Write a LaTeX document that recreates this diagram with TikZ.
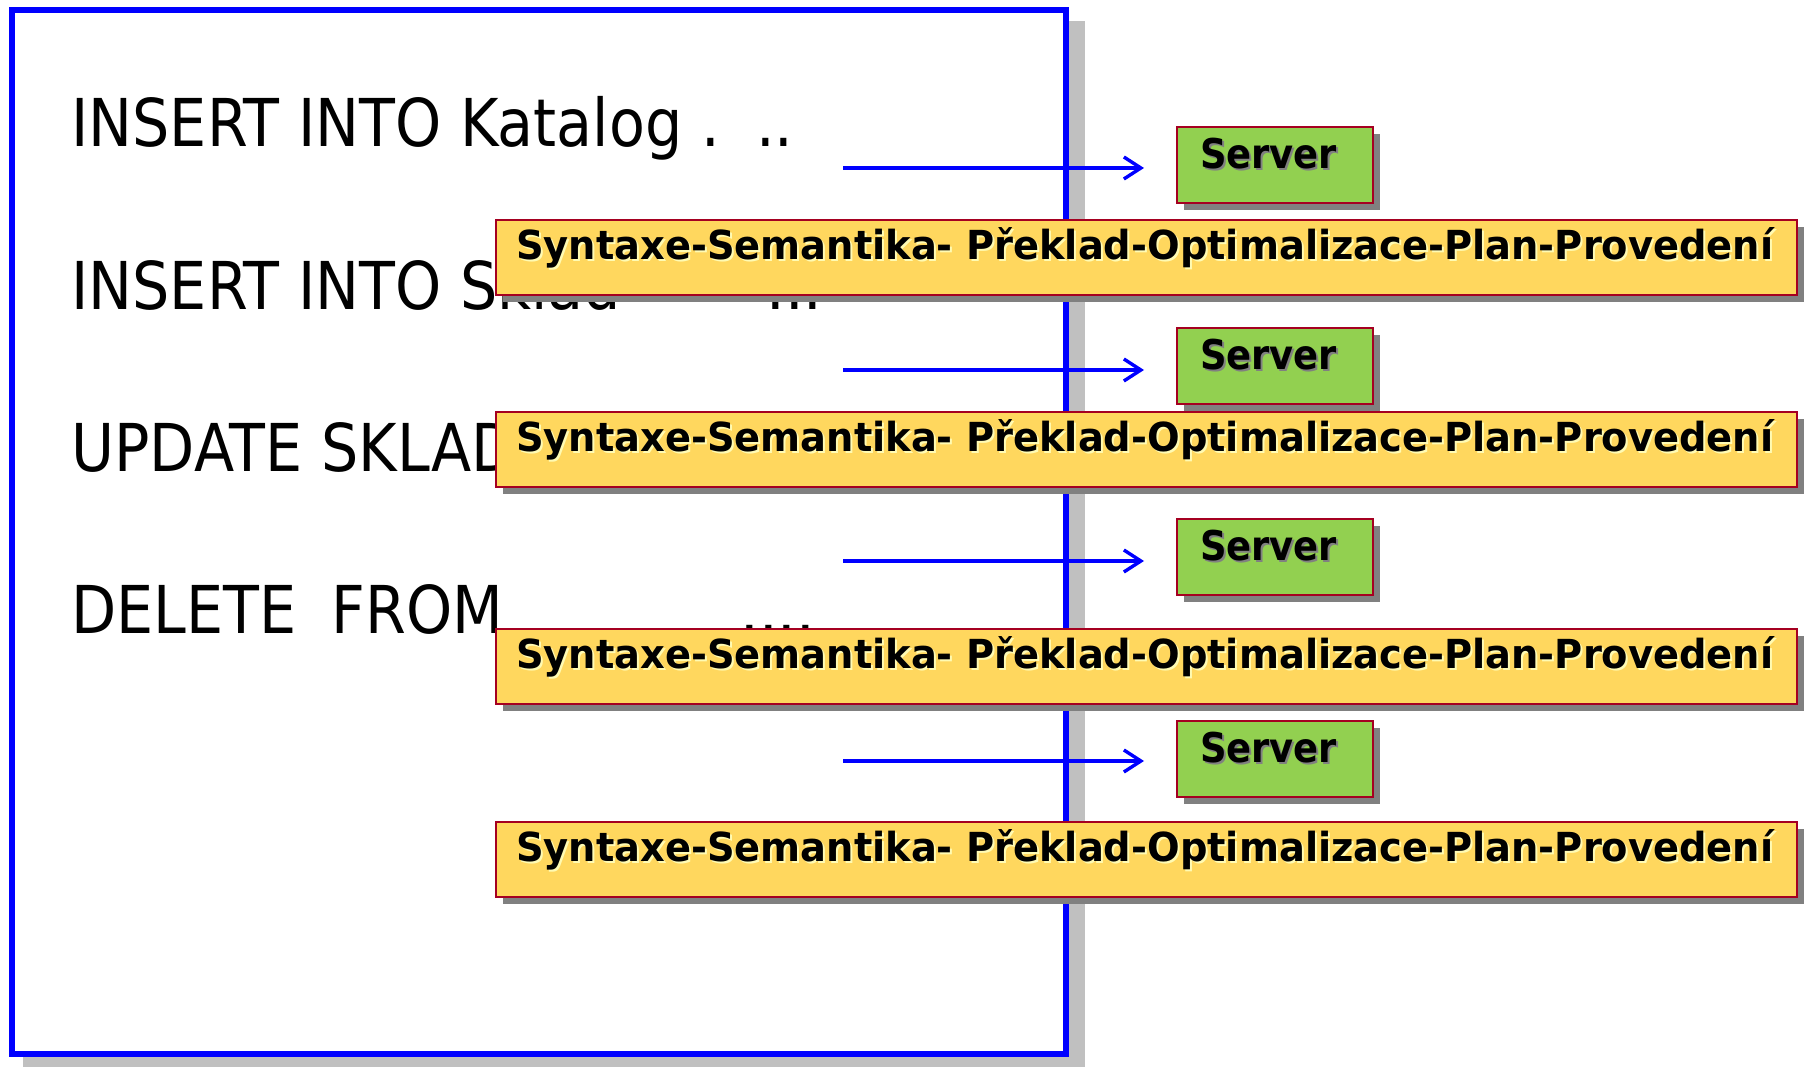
\documentclass[tikz,border=0pt]{standalone}
\usepackage{fontspec}
\setmainfont{DejaVu Sans}
\newfontfamily\sqlfont[FakeStretch=0.89]{DejaVu Sans}
\newfontfamily\srvfont[FakeStretch=0.9]{DejaVu Sans}
\newfontfamily\barfont[FakeStretch=0.96]{DejaVu Sans}
\usetikzlibrary{arrows.meta,shadows,positioning}

\definecolor{srvgreen}{HTML}{92D050}
\definecolor{stepyellow}{HTML}{FFD75E}
\definecolor{boxred}{HTML}{A50021}
\definecolor{lightshade}{HTML}{C0C0C0}
\definecolor{darkshade}{HTML}{808080}

% text with a small offset copy behind it
\newcommand\shadetext[2]{\makebox[0pt][l]{\hspace{1pt}\raisebox{-1pt}{\textcolor{#1}{#2}}}#2}

\tikzset{
  sqlline/.style={anchor=base west, inner sep=0pt,
    font=\sqlfont\fontsize{33}{40}\selectfont},
  srvbox/.style={anchor=north west, draw=boxred, line width=1pt, fill=srvgreen,
    font=\srvfont\bfseries\fontsize{20.5}{24}\selectfont,
    text width=75pt, align=left, inner xsep=11.5pt, inner ysep=6pt,
    text height=15pt, text depth=11pt,
    drop shadow={shadow xshift=3.5pt, shadow yshift=-3.5pt, opacity=1, fill=darkshade}},
  stepbar/.style={anchor=north west, draw=boxred, line width=1pt, fill=stepyellow,
    font=\barfont\bfseries\fontsize{20}{24}\selectfont,
    text width=630.5pt, align=left, inner xsep=10pt, inner ysep=5.5pt,
    text height=14.5pt, text depth=12pt,
    drop shadow={shadow xshift=3.5pt, shadow yshift=-3.5pt, opacity=1, fill=darkshade}},
  sendarrow/.style={-{Straight Barb[length=8.5pt,width=11pt]}, blue, line width=1.7pt,
    shorten >=16pt}
}

\begin{document}
\begin{tikzpicture}[x=0.5pt,y=-0.5pt]
    \useasboundingbox (0,0) rectangle (1806,1068);

    % client panel with its shadow
    \fill[lightshade] (23,21) rectangle (1085,1067);
    \draw[blue, line width=3pt, fill=white] (12,10) rectangle (1066,1054);

    % statements sent one by one
    \node[sqlline] (q1) at (71,147) {INSERT INTO Katalog .\hspace{0.55em}..};
    \node[sqlline] (q2) at (71,310) {INSERT INTO Sklad};
    \node[sqlline] (q2tail) at (766,310) {...};
    \node[sqlline] (q3) at (71,472) {UPDATE SKLAD};
    \node[sqlline] (q4) at (71,634) {DELETE\hspace{0.25em} FROM};
    \node[sqlline] (q4tail) at (740,634) {....};

    % first round trip
    \node[srvbox] (s1) at (1176,126) {\shadetext{darkshade}{Server}};
    \coordinate (a1) at (843,168);
    \draw[sendarrow] (a1) -- (a1 -| s1.west);
    \node[stepbar] (p1) at (495,219) {\shadetext{yellow!30}{Syntaxe-Semantika- Překlad-Optimalizace-Plan-Provedení}};

    % second round trip
    \node[srvbox] (s2) at (1176,327) {\shadetext{darkshade}{Server}};
    \coordinate (a2) at (843,370);
    \draw[sendarrow] (a2) -- (a2 -| s2.west);
    \node[stepbar] (p2) at (495,411) {\shadetext{yellow!30}{Syntaxe-Semantika- Překlad-Optimalizace-Plan-Provedení}};

    % third round trip
    \node[srvbox] (s3) at (1176,518) {\shadetext{darkshade}{Server}};
    \coordinate (a3) at (843,561);
    \draw[sendarrow] (a3) -- (a3 -| s3.west);
    \node[stepbar] (p3) at (495,628) {\shadetext{yellow!30}{Syntaxe-Semantika- Překlad-Optimalizace-Plan-Provedení}};

    % fourth round trip
    \node[srvbox] (s4) at (1176,720) {\shadetext{darkshade}{Server}};
    \coordinate (a4) at (843,761);
    \draw[sendarrow] (a4) -- (a4 -| s4.west);
    \node[stepbar] (p4) at (495,821) {\shadetext{yellow!30}{Syntaxe-Semantika- Překlad-Optimalizace-Plan-Provedení}};
\end{tikzpicture}
\end{document}
